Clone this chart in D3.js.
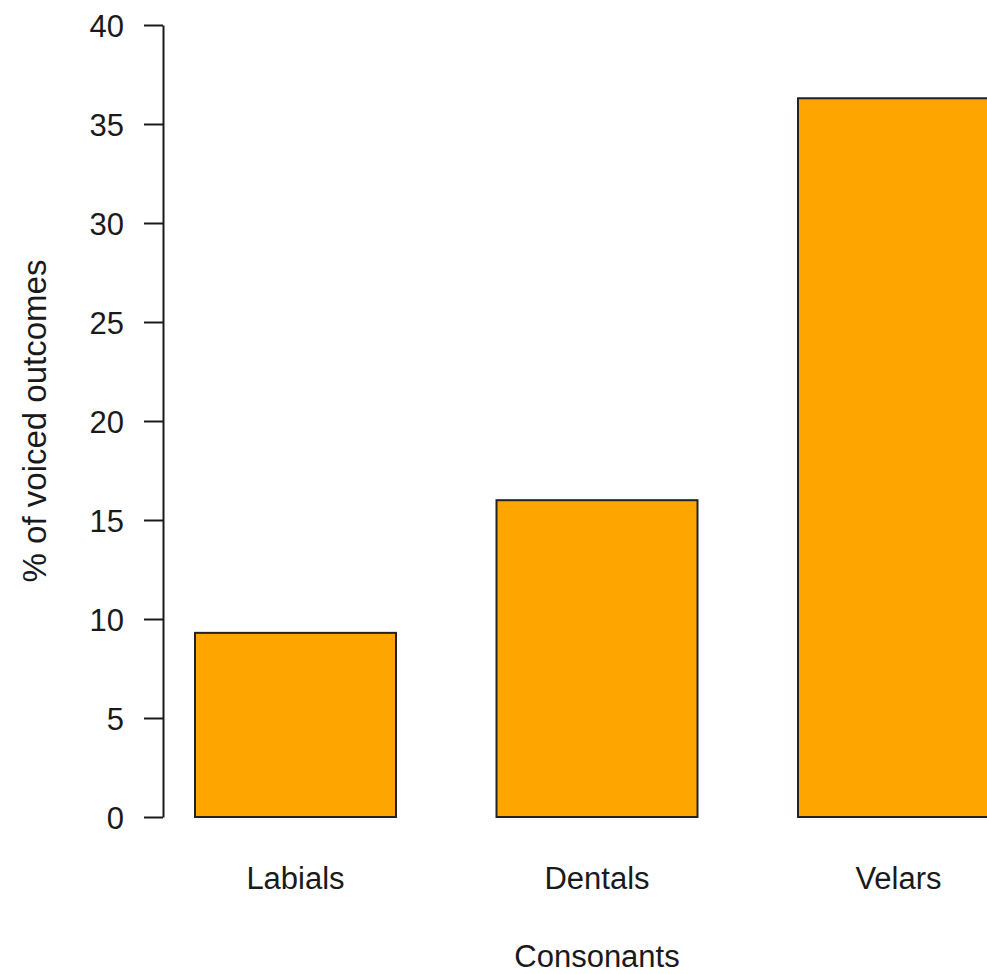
<!DOCTYPE html>
<html>
<head>
<meta charset="utf-8">
<script src="https://cdn.jsdelivr.net/npm/d3@7"></script>
<style>
  html, body { margin: 0; padding: 0; background: #fff; overflow: hidden; }
  text { font-family: "Liberation Sans", Arial, sans-serif; fill: #1a1a1a; }
</style>
</head>
<body>
<svg id="chart" width="987" height="974"></svg>
<script>
// Share of voiced outcomes by consonant place of articulation
const categories = ["Labials", "Dentals", "Velars"];
const values = [9.3, 16.0, 36.3];
const yTicks = [0, 5, 10, 15, 20, 25, 30, 35, 40];
const xTitle = "Consonants";
const yTitle = "% of voiced outcomes";

const svg = d3.select("#chart");
const ink = "#1a1a1a";

// barplot-style layout: unit-width bars separated by half a unit
const barWidth = 1, space = 0.5;
const barStart = categories.map((_, i) => space + i * (barWidth + space));

const x = d3.scaleLinear().domain([0, 1]).range([94.5, 295.5]);
const y = d3.scaleLinear().domain([0, 40]).range([817, 25]);

// bars
svg.append("g").selectAll("rect")
  .data(values)
  .join("rect")
  .attr("x", (d, i) => x(barStart[i]))
  .attr("width", (d, i) => x(barStart[i] + barWidth) - x(barStart[i]))
  .attr("y", d => y(d))
  .attr("height", d => y(0) - y(d))
  .attr("fill", "#FFA500")
  .attr("stroke", "#222")
  .attr("stroke-width", 2);

// y axis
const yAxis = d3.axisLeft(y)
  .tickValues(yTicks)
  .tickSize(19)
  .tickPadding(20)
  .tickSizeOuter(0);

const gy = svg.append("g")
  .attr("transform", `translate(${163},0)`)
  .call(yAxis);
gy.select(".domain").attr("stroke", ink).attr("stroke-width", 2);
gy.selectAll(".tick line").attr("stroke", ink).attr("stroke-width", 2);
gy.selectAll(".tick text")
  .attr("font-family", "Liberation Sans, Arial, sans-serif")
  .attr("font-size", 31)
  .attr("fill", ink)
  .attr("dy", "0.36em");

// category labels under the bars
svg.append("g").selectAll("text")
  .data(categories)
  .join("text")
  .attr("x", (d, i) => x(barStart[i] + barWidth / 2))
  .attr("y", 889)
  .attr("text-anchor", "middle")
  .attr("font-size", 31)
  .text(d => d);

// axis titles
svg.append("text")
  .attr("x", x(barStart[1] + barWidth / 2))
  .attr("y", 967)
  .attr("text-anchor", "middle")
  .attr("font-size", 31)
  .text(xTitle);

svg.append("text")
  .attr("transform", `translate(46,${(y(0) + y(40)) / 2}) rotate(-90)`)
  .attr("text-anchor", "middle")
  .attr("font-size", 33)
  .text(yTitle);
</script>
</body>
</html>
